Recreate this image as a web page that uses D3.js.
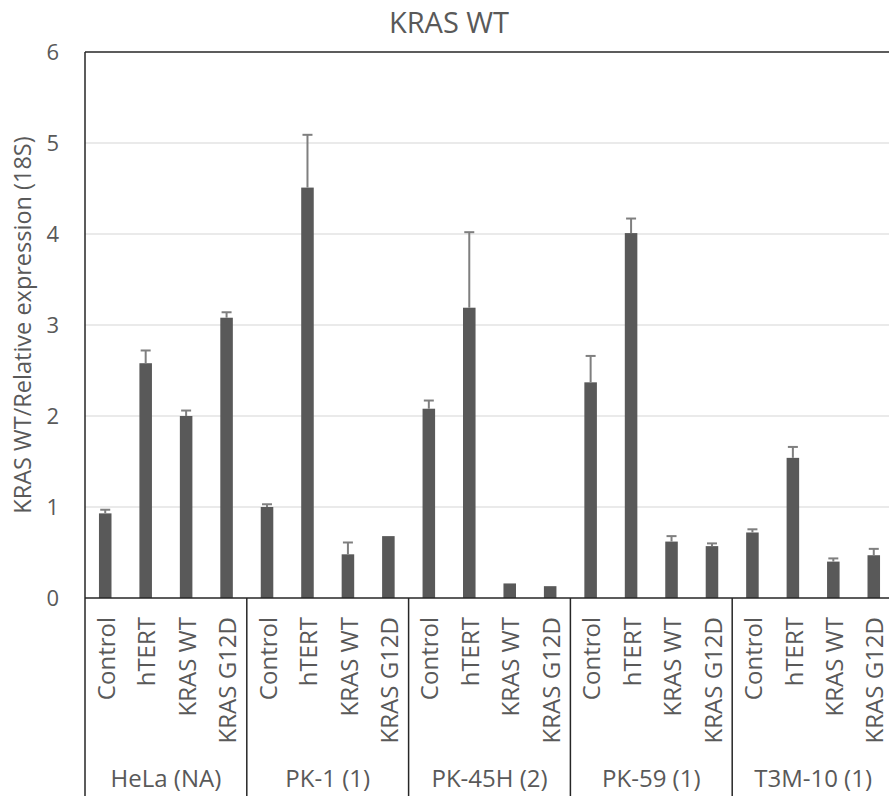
<!DOCTYPE html>
<html>
<head>
<meta charset="utf-8">
<script src="https://cdn.jsdelivr.net/npm/d3@7"></script>
<style>
  html, body { margin: 0; padding: 0; background: #fff; overflow: hidden; }
  text { font-family: "Open Sans", sans-serif; fill: #595959; }
</style>
</head>
<body>
<svg id="chart" width="889" height="796"></svg>
<script>
const title = "KRAS WT";
const yTitle = "KRAS WT/Relative expression (18S)";
const groups = ["HeLa (NA)", "PK-1 (1)", "PK-45H (2)", "PK-59 (1)", "T3M-10 (1)"];
const conditions = ["Control", "hTERT", "KRAS WT", "KRAS G12D"];
const values = [
  [0.93, 2.58, 2.00, 3.08],
  [1.00, 4.51, 0.48, 0.68],
  [2.08, 3.19, 0.16, 0.13],
  [2.37, 4.01, 0.62, 0.57],
  [0.72, 1.54, 0.40, 0.47]
];
const errors = [
  [0.04, 0.14, 0.06, 0.06],
  [0.03, 0.58, 0.13, 0.00],
  [0.09, 0.83, 0.00, 0.00],
  [0.29, 0.16, 0.06, 0.03],
  [0.035, 0.12, 0.035, 0.07]
];
const yTicks = [0, 1, 2, 3, 4, 5, 6];

(function () {
const svg = d3.select("#chart");
const mLeft = 85, mRight = 894, mTop = 52, mBottom = 598, H = 796;

const bars = [];
groups.forEach((g, gi) => conditions.forEach((c, ci) => {
  bars.push({ key: gi + "-" + ci, group: g, gi, cond: c, v: values[gi][ci], e: errors[gi][ci] });
}));

const x = d3.scaleBand().domain(bars.map(d => d.key)).range([mLeft, mRight]).paddingInner(0.69).paddingOuter(0.345);
const y = d3.scaleLinear().domain([0, 6]).range([mBottom, mTop]);
const step = x.step();

// gridlines
svg.append("g").selectAll("line").data(yTicks.filter(t => t > 0 && t < 6)).join("line")
  .attr("x1", mLeft).attr("x2", mRight).attr("y1", d => y(d)).attr("y2", d => y(d))
  .attr("stroke", "#e3e3e3").attr("stroke-width", 1.5);

// y tick labels
svg.append("g").selectAll("text").data(yTicks).join("text")
  .attr("x", 59).attr("y", d => y(d)).attr("dy", "0.36em")
  .attr("text-anchor", "end").attr("font-size", 22).text(d => d);

// bars
svg.append("g").selectAll("rect").data(bars).join("rect")
  .attr("x", d => x(d.key)).attr("width", x.bandwidth())
  .attr("y", d => y(d.v)).attr("height", d => y(0) - y(d.v))
  .attr("fill", "#595959");

// error bars
const eb = svg.append("g").attr("stroke", "#7f7f7f").attr("stroke-width", 2);
bars.filter(d => d.e > 0).forEach(d => {
  const cx = x(d.key) + x.bandwidth() / 2;
  eb.append("line").attr("x1", cx).attr("x2", cx).attr("y1", y(d.v)).attr("y2", y(d.v + d.e));
  eb.append("line").attr("x1", cx - 5).attr("x2", cx + 5).attr("y1", y(d.v + d.e)).attr("y2", y(d.v + d.e));
});

// frame lines
const axisColor = "#262626";
svg.append("line").attr("x1", mLeft).attr("x2", mRight).attr("y1", mTop).attr("y2", mTop)
  .attr("stroke", axisColor).attr("stroke-width", 1.5);
svg.append("line").attr("x1", mLeft).attr("x2", mRight).attr("y1", mBottom).attr("y2", mBottom)
  .attr("stroke", axisColor).attr("stroke-width", 1.5);
svg.append("line").attr("x1", mLeft).attr("x2", mLeft).attr("y1", mTop).attr("y2", H)
  .attr("stroke", axisColor).attr("stroke-width", 1.5);
// group separators
svg.append("g").selectAll("line").data(d3.range(1, groups.length + 1)).join("line")
  .attr("x1", i => mLeft + i * 4 * step).attr("x2", i => mLeft + i * 4 * step)
  .attr("y1", mBottom).attr("y2", H)
  .attr("stroke", axisColor).attr("stroke-width", 1.5);

// category labels (rotated)
svg.append("g").selectAll("text").data(bars).join("text")
  .attr("transform", d => `translate(${x(d.key) + x.bandwidth() / 2 + 1},617) rotate(-90)`)
  .attr("dy", "0.36em").attr("text-anchor", "end").attr("font-size", 24)
  .text(d => d.cond);

// group labels
svg.append("g").selectAll("text").data(groups).join("text")
  .attr("x", (g, i) => mLeft + (i + 0.5) * 4 * step).attr("y", 787)
  .attr("text-anchor", "middle").attr("font-size", 24).text(g => g);

// title
svg.append("text").attr("x", 449).attr("y", 33).attr("text-anchor", "middle")
  .attr("font-size", 29).text(title);

// y title
svg.append("text").attr("transform", `translate(31,${(mTop + mBottom) / 2}) rotate(-90)`)
  .attr("text-anchor", "middle").attr("font-size", 23.5).text(yTitle);
})();
</script>
</body>
</html>
